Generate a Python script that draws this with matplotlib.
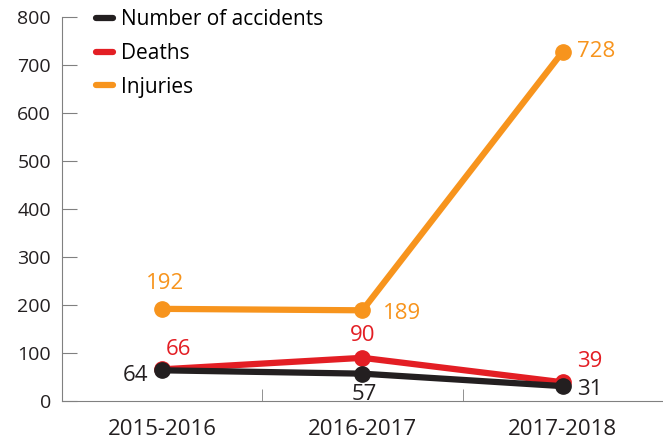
import matplotlib
matplotlib.use("Agg")
import matplotlib.pyplot as plt

# data
years = ["2015-2016", "2016-2017", "2017-2018"]
accidents = [64, 57, 31]
deaths = [66, 90, 39]
injuries = [192, 189, 728]

# label offsets in pixels (dx, dy, ha)
acc_off = [(-14, -5, "right"), (2, -21, "center"), (14, -3, "left")]
death_off = [(16, 20, "center"), (0, 22, "center"), (27, 21, "center")]
inj_off = [(3, 25, "center"), (20, -3, "left"), (14, 0, "left")]

black = "#231f20"
red = "#e31e24"
orange = "#f7941d"

plt.rcParams["font.family"] = ["Open Sans", "DejaVu Sans"]

fig = plt.figure(figsize=(6.63, 4.4), dpi=100)
ax = fig.add_axes([0.0935, 0.0886, 0.9065, 0.8727])

x = list(range(len(years)))
series = [
    ("Number of accidents", accidents, black, acc_off),
    ("Deaths", deaths, red, death_off),
    ("Injuries", injuries, orange, inj_off),
]
# draw injuries first so black/red sit on top like the original
for name, vals, col, offs in reversed(series):
    ax.plot(x, vals, color=col, lw=4.5, marker="o", ms=11, label=name,
            solid_capstyle="round")
    for xi, v, (dx, dy, ha) in zip(x, vals, offs):
        ax.annotate(str(v), (xi, v), xytext=(dx, dy), textcoords="offset pixels",
                    ha=ha, va="center", fontsize=16, color=col)

ax.set_xlim(-0.5, 2.49)
ax.set_ylim(0, 800)
ax.set_yticks(range(0, 801, 100))
ax.set_xticks(x)
ax.set_xticklabels(years)
ax.set_xticks([-0.5, 0.5, 1.5, 2.5], minor=True)

for s in ["top", "right"]:
    ax.spines[s].set_visible(False)
for s in ["left", "bottom"]:
    ax.spines[s].set_color("#808080")
    ax.spines[s].set_linewidth(0.8)

ax.tick_params(axis="y", direction="in", length=11, color="#808080", labelsize=14,
               labelcolor=black, pad=8)
ax.tick_params(axis="x", which="major", length=0, labelsize=16, labelcolor=black, pad=13)
ax.tick_params(axis="x", which="minor", direction="in", length=9, color="#808080")

handles, labels = ax.get_legend_handles_labels()
leg = ax.legend(handles[::-1], labels[::-1], loc="upper left", bbox_to_anchor=(0.025, 1.07),
                frameon=False, fontsize=15, handlelength=0.85, handletextpad=0.35,
                labelspacing=0.62, markerscale=0)
for h in leg.get_lines():
    h.set_marker("")
    h.set_linewidth(4.5)

fig.savefig("out.png", dpi=100)
